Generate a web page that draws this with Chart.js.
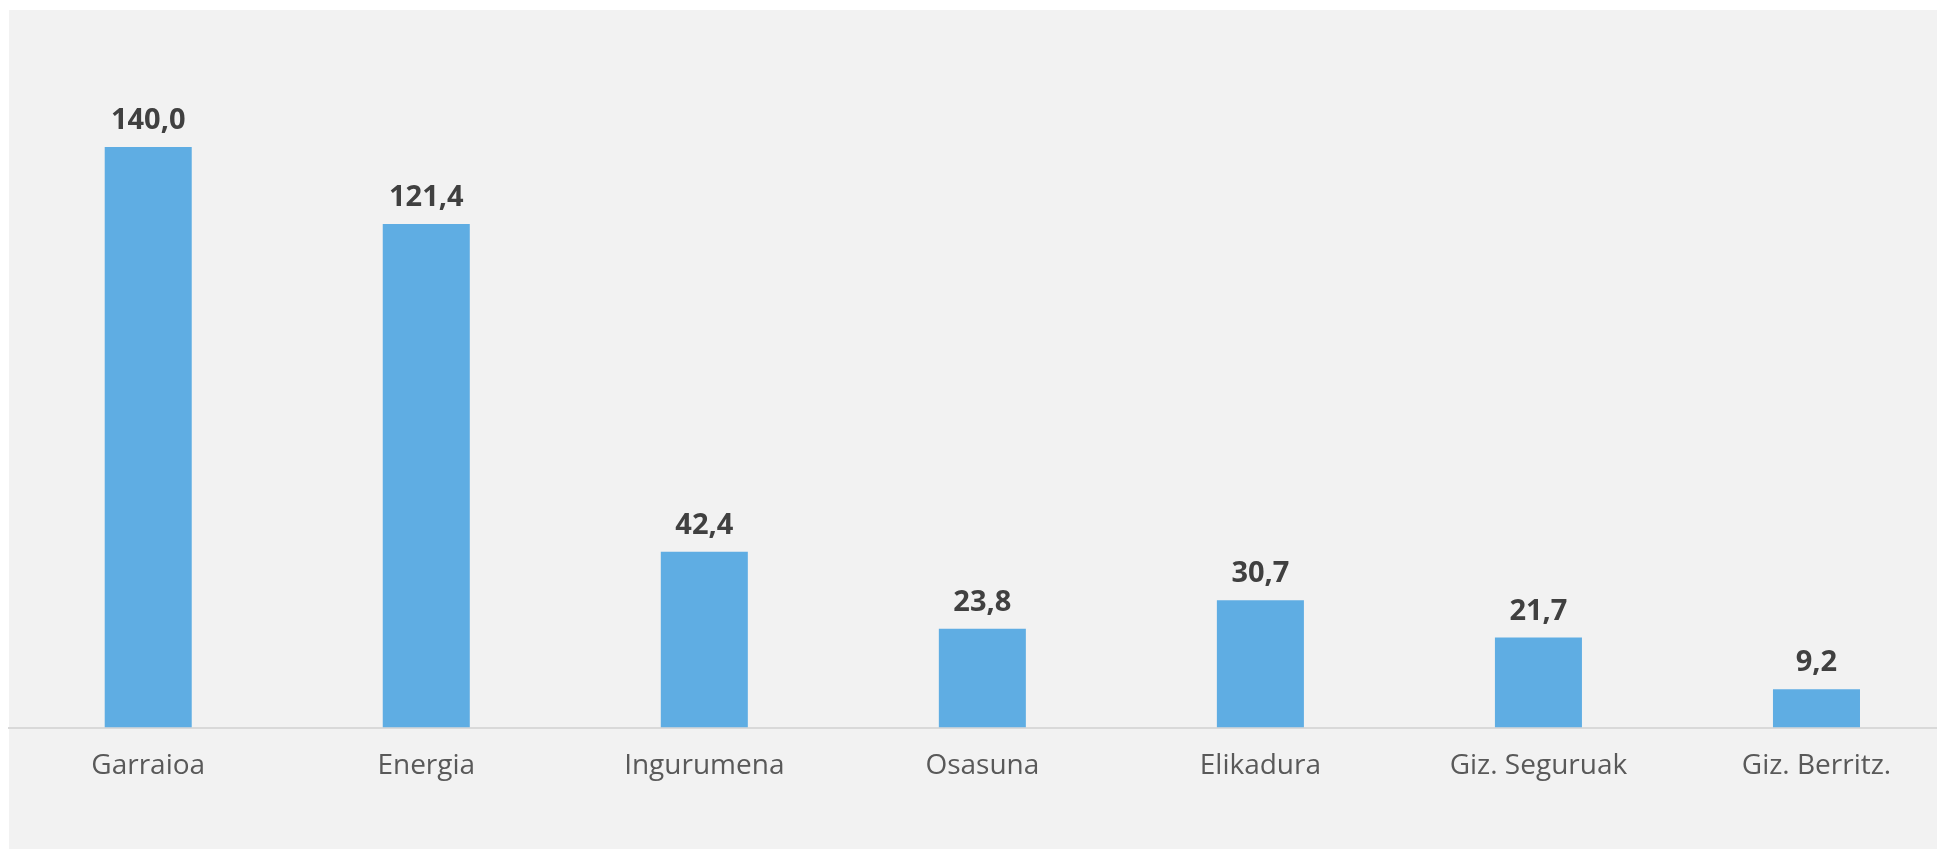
<!DOCTYPE html>
<html>
<head>
<meta charset="utf-8">
<script src="https://cdn.jsdelivr.net/npm/chart.js@4/dist/chart.umd.min.js"></script>
<style>
  html, body { margin: 0; padding: 0; background: #ffffff; overflow: hidden; width: 1937px; height: 849px; }
  #panel { position: absolute; left: 9px; top: 10px; right: 0; bottom: 0; background: #f2f2f2; }
  #wrap { position: absolute; left: 0; top: 0; width: 1960px; height: 849px; }
</style>
</head>
<body>
<div id="panel"></div>
<div id="wrap"><canvas id="chart" width="1960" height="849"></canvas></div>
<script>
// Chart data
const categories = ["Garraioa", "Energia", "Ingurumena", "Osasuna", "Elikadura", "Giz. Seguruak", "Giz. Berritz."];
const values = [140.0, 121.4, 42.4, 23.8, 30.7, 21.7, 9.2];

const fmt = (v) => v.toFixed(1).replace('.', ',');

// Draw the value above each bar
const valueLabels = {
  id: 'valueLabels',
  afterDatasetsDraw(chart) {
    const ctx = chart.ctx;
    const meta = chart.getDatasetMeta(0);
    ctx.save();
    ctx.font = 'bold 29px "Open Sans"';
    ctx.fillStyle = '#404040';
    ctx.textAlign = 'center';
    ctx.textBaseline = 'alphabetic';
    meta.data.forEach((bar, i) => {
      ctx.fillText(fmt(values[i]), bar.x, bar.y - 18);
    });
    ctx.restore();
  }
};

window.addEventListener('load', function() {
  const ctx = document.getElementById('chart').getContext('2d');
  new Chart(ctx, {
    type: 'bar',
    data: {
      labels: categories,
      datasets: [{
        data: values,
        backgroundColor: '#5fade3',
        barPercentage: 0.313,
        categoryPercentage: 1.0,
      }]
    },
    options: {
      responsive: false,
      animation: false,
      layout: { padding: { left: 9.2, right: 4.5, top: 64, bottom: 0 } },
      plugins: {
        legend: { display: false },
        tooltip: { enabled: false },
      },
      scales: {
        x: {
          offset: true,
          grid: { display: false, drawTicks: false },
          border: { color: '#d9d9d9', width: 2 },
          ticks: {
            color: '#595959',
            font: { family: 'Open Sans', size: 28 },
            padding: 22,
            maxRotation: 0,
          },
          afterFit: (scale) => { scale.height = 121.5; },
        },
        y: {
          display: false,
          min: 0,
          max: 160,
        }
      }
    },
    plugins: [valueLabels],
  });
});
</script>
</body>
</html>
